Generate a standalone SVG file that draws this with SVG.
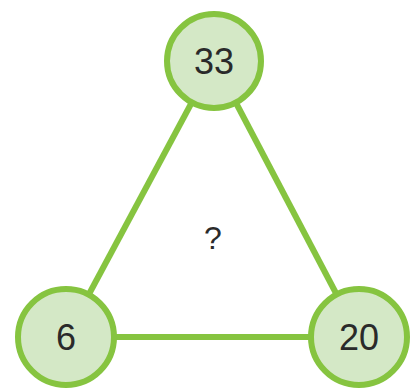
<svg xmlns="http://www.w3.org/2000/svg" width="415" height="389" viewBox="0 0 415 389">
<style>
.node circle{fill:#d4e8c6;stroke:#86c440;stroke-width:6}
.node text,.label{font-family:"Liberation Sans",Arial,sans-serif;font-size:36px;fill:#2a2a2a;text-anchor:middle}
.edges line{stroke:#86c440;stroke-width:6}
</style>
<rect width="415" height="389" fill="#fff"/>
<g class="edges" id="connectors">
<line x1="214" y1="61" x2="66" y2="337"/>
<line x1="214" y1="61" x2="359" y2="337"/>
<line x1="66" y1="337" x2="359" y2="337"/>
</g>
<g class="node" id="n33"><circle cx="214" cy="61" r="47"/><text x="214" y="74">33</text></g>
<g class="node" id="n6"><circle cx="66" cy="337" r="48"/><text x="66" y="350">6</text></g>
<g class="node" id="n20"><circle cx="359" cy="337" r="48"/><text x="359" y="350">20</text></g>
<text class="label" x="213" y="249" style="font-size:32px">?</text>
</svg>
